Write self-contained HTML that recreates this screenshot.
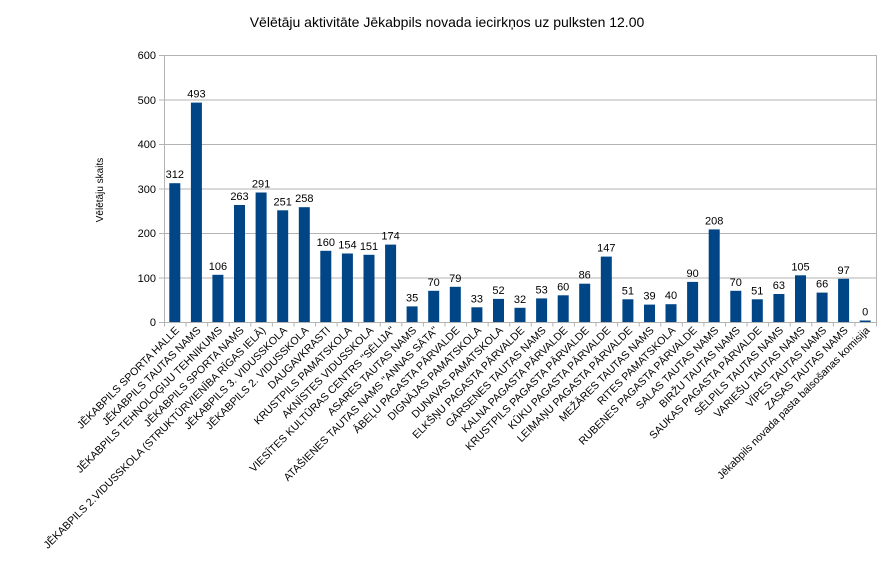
<!DOCTYPE html><html><head><meta charset="utf-8"><style>body{margin:0;background:#fff}</style></head><body>
<svg width="894" height="559" xmlns="http://www.w3.org/2000/svg" font-family="Liberation Sans, sans-serif">
<rect width="894" height="559" fill="#fff"/>
<text x="447" y="27" font-size="14" text-anchor="middle">Vēlētāju aktivitāte Jēkabpils novada iecirkņos uz pulksten 12.00</text>
<text transform="translate(103,190) rotate(-90)" font-size="10" text-anchor="middle">Vēlētāju skaits</text>
<g stroke="#b3b3b3" stroke-width="1">
<line x1="159" y1="55.5" x2="876" y2="55.5"/><line x1="159" y1="100" x2="876" y2="100"/><line x1="159" y1="144.5" x2="876" y2="144.5"/><line x1="159" y1="189" x2="876" y2="189"/><line x1="159" y1="233.5" x2="876" y2="233.5"/><line x1="159" y1="278" x2="876" y2="278"/><line x1="159" y1="322.5" x2="876" y2="322.5"/>
<line x1="164.5" y1="55" x2="164.5" y2="323"/><line x1="876.5" y1="55" x2="876.5" y2="323"/>
<line x1="164" y1="324.5" x2="877" y2="324.5" stroke-width="4" stroke-dasharray="1 20.576"/>
</g>
<g font-size="11" text-anchor="end">
<text x="156" y="59">600</text><text x="156" y="104">500</text><text x="156" y="148">400</text><text x="156" y="193">300</text><text x="156" y="237">200</text><text x="156" y="282">100</text><text x="156" y="326">0</text>
</g>
<g fill="#004586">
<rect x="169.3" y="183.2" width="11" height="138.8"/>
<rect x="190.9" y="102.6" width="11" height="219.4"/>
<rect x="212.4" y="274.8" width="11" height="47.2"/>
<rect x="234.0" y="205.0" width="11" height="117.0"/>
<rect x="255.6" y="192.5" width="11" height="129.5"/>
<rect x="277.2" y="210.3" width="11" height="111.7"/>
<rect x="298.8" y="207.2" width="11" height="114.8"/>
<rect x="320.3" y="250.8" width="11" height="71.2"/>
<rect x="341.9" y="253.5" width="11" height="68.5"/>
<rect x="363.5" y="254.8" width="11" height="67.2"/>
<rect x="385.1" y="244.6" width="11" height="77.4"/>
<rect x="406.6" y="306.4" width="11" height="15.6"/>
<rect x="428.2" y="290.8" width="11" height="31.2"/>
<rect x="449.8" y="286.8" width="11" height="35.2"/>
<rect x="471.4" y="307.3" width="11" height="14.7"/>
<rect x="493.0" y="298.9" width="11" height="23.1"/>
<rect x="514.5" y="307.8" width="11" height="14.2"/>
<rect x="536.1" y="298.4" width="11" height="23.6"/>
<rect x="557.7" y="295.3" width="11" height="26.7"/>
<rect x="579.2" y="283.7" width="11" height="38.3"/>
<rect x="600.8" y="256.6" width="11" height="65.4"/>
<rect x="622.4" y="299.3" width="11" height="22.7"/>
<rect x="644.0" y="304.6" width="11" height="17.4"/>
<rect x="665.5" y="304.2" width="11" height="17.8"/>
<rect x="687.1" y="281.9" width="11" height="40.1"/>
<rect x="708.7" y="229.4" width="11" height="92.6"/>
<rect x="730.3" y="290.8" width="11" height="31.2"/>
<rect x="751.8" y="299.3" width="11" height="22.7"/>
<rect x="773.4" y="294.0" width="11" height="28.0"/>
<rect x="795.0" y="275.3" width="11" height="46.7"/>
<rect x="816.6" y="292.6" width="11" height="29.4"/>
<rect x="838.1" y="278.8" width="11" height="43.2"/>
<rect x="859.7" y="320.5" width="11" height="1.5"/>
</g>
<g font-size="11" text-anchor="middle">
<text x="174.8" y="178.2">312</text><text x="196.4" y="97.6">493</text><text x="217.9" y="269.8">106</text><text x="239.5" y="200">263</text><text x="261.1" y="187.5">291</text><text x="282.7" y="205.3">251</text><text x="304.3" y="202.2">258</text><text x="325.8" y="245.8">160</text><text x="347.4" y="248.5">154</text><text x="369" y="249.8">151</text><text x="390.6" y="239.6">174</text><text x="412.1" y="301.4">35</text><text x="433.7" y="285.8">70</text><text x="455.3" y="281.8">79</text><text x="476.9" y="302.3">33</text><text x="498.5" y="293.9">52</text><text x="520" y="302.8">32</text><text x="541.6" y="293.4">53</text><text x="563.2" y="290.3">60</text><text x="584.7" y="278.7">86</text><text x="606.3" y="251.6">147</text><text x="627.9" y="294.3">51</text><text x="649.5" y="299.6">39</text><text x="671" y="299.2">40</text><text x="692.6" y="276.9">90</text><text x="714.2" y="224.4">208</text><text x="735.8" y="285.8">70</text><text x="757.3" y="294.3">51</text><text x="778.9" y="289">63</text><text x="800.5" y="270.3">105</text><text x="822.1" y="287.6">66</text><text x="843.6" y="273.8">97</text><text x="865.2" y="315.5">0</text>
</g>
<g font-size="10.7" text-anchor="end">
<text transform="translate(179.8,331) rotate(-45)">JĒKABPILS SPORTA HALLE</text>
<text transform="translate(201.4,331) rotate(-45)">JĒKABPILS TAUTAS NAMS</text>
<text transform="translate(222.9,331) rotate(-45)">JĒKABPILS TEHNOLOĢIJU TEHNIKUMS</text>
<text transform="translate(244.5,331) rotate(-45)">JĒKABPILS SPORTA NAMS</text>
<text transform="translate(266.1,331) rotate(-45)">JĒKABPILS 2.VIDUSSKOLA (STRUKTŪRVIENĪBA RĪGAS IELĀ)</text>
<text transform="translate(287.7,331) rotate(-45)">JĒKABPILS 3. VIDUSSKOLA</text>
<text transform="translate(309.3,331) rotate(-45)">JĒKABPILS 2. VIDUSSKOLA</text>
<text transform="translate(330.8,331) rotate(-45)">DAUGAVKRASTI</text>
<text transform="translate(352.4,331) rotate(-45)">KRUSTPILS PAMATSKOLA</text>
<text transform="translate(374,331) rotate(-45)">AKNĪSTES VIDUSSKOLA</text>
<text transform="translate(395.6,331) rotate(-45)">VIESĪTES KULTŪRAS CENTRS "SĒLIJA"</text>
<text transform="translate(417.1,331) rotate(-45)">ASARES TAUTAS NAMS</text>
<text transform="translate(438.7,331) rotate(-45)">ATAŠIENES TAUTAS NAMS "ANNAS SĀTA"</text>
<text transform="translate(460.3,331) rotate(-45)">ĀBEĻU PAGASTA PĀRVALDE</text>
<text transform="translate(481.9,331) rotate(-45)">DIGNĀJAS PAMATSKOLA</text>
<text transform="translate(503.5,331) rotate(-45)">DUNAVAS PAMATSKOLA</text>
<text transform="translate(525,331) rotate(-45)">ELKŠŅU PAGASTA PĀRVALDE</text>
<text transform="translate(546.6,331) rotate(-45)">GĀRSENES TAUTAS NAMS</text>
<text transform="translate(568.2,331) rotate(-45)">KALNA PAGASTA PĀRVALDE</text>
<text transform="translate(589.7,331) rotate(-45)">KRUSTPILS PAGASTA PĀRVALDE</text>
<text transform="translate(611.3,331) rotate(-45)">KŪKU PAGASTA PĀRVALDE</text>
<text transform="translate(632.9,331) rotate(-45)">LEIMAŅU PAGASTA PĀRVALDE</text>
<text transform="translate(654.5,331) rotate(-45)">MEŽĀRES TAUTAS NAMS</text>
<text transform="translate(676,331) rotate(-45)">RITES PAMATSKOLA</text>
<text transform="translate(697.6,331) rotate(-45)">RUBENES PAGASTA PĀRVALDE</text>
<text transform="translate(719.2,331) rotate(-45)">SALAS TAUTAS NAMS</text>
<text transform="translate(740.8,331) rotate(-45)">BIRŽU TAUTAS NAMS</text>
<text transform="translate(762.3,331) rotate(-45)">SAUKAS PAGASTA PĀRVALDE</text>
<text transform="translate(783.9,331) rotate(-45)">SĒLPILS TAUTAS NAMS</text>
<text transform="translate(805.5,331) rotate(-45)">VARIEŠU TAUTAS NAMS</text>
<text transform="translate(827.1,331) rotate(-45)">VĪPES TAUTAS NAMS</text>
<text transform="translate(848.6,331) rotate(-45)">ZASAS TAUTAS NAMS</text>
<text transform="translate(870.2,331) rotate(-45)">Jēkabpils novada pasta balsošanas komisija</text>
</g>
</svg></body></html>
